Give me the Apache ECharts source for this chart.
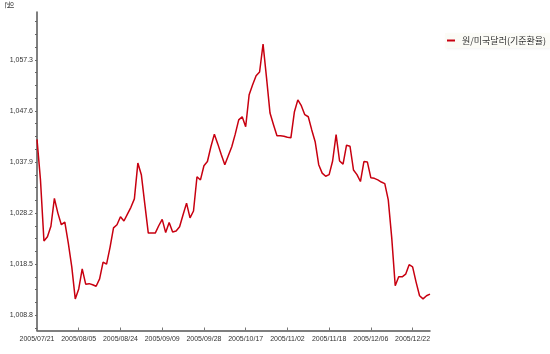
<!DOCTYPE html>
<html>
<head>
<meta charset="utf-8">
<script src="https://cdn.jsdelivr.net/npm/echarts@6/dist/echarts.min.js"></script>
<style>
html,body{margin:0;padding:0;background:#fff;}
#chart{width:550px;height:354px;}
</style>
</head>
<body>
<div id="chart"></div>
<script>
const seriesName = '원/미국달러(기준환율)';
const unitLabel = '원';
const dates = [
 '2005/07/21','2005/07/22','2005/07/25','2005/07/26','2005/07/27','2005/07/28','2005/07/29','2005/07/30',
 '2005/08/01','2005/08/02','2005/08/03','2005/08/04','2005/08/05',
 '2005/08/08','2005/08/09','2005/08/10','2005/08/11','2005/08/12','2005/08/16','2005/08/17','2005/08/18','2005/08/19','2005/08/22','2005/08/23','2005/08/24',
 '2005/08/25','2005/08/26','2005/08/29','2005/08/30','2005/08/31',
 '2005/09/01','2005/09/02','2005/09/05','2005/09/06','2005/09/07','2005/09/08','2005/09/09',
 '2005/09/12','2005/09/13','2005/09/14','2005/09/15','2005/09/16','2005/09/20','2005/09/21','2005/09/22','2005/09/23','2005/09/26','2005/09/27','2005/09/28',
 '2005/09/29','2005/09/30',
 '2005/10/04','2005/10/05','2005/10/06','2005/10/07','2005/10/10','2005/10/11','2005/10/12','2005/10/13','2005/10/14','2005/10/17',
 '2005/10/18','2005/10/19','2005/10/20','2005/10/21','2005/10/24','2005/10/25','2005/10/26','2005/10/27','2005/10/28','2005/10/31',
 '2005/11/01','2005/11/02',
 '2005/11/03','2005/11/04','2005/11/07','2005/11/08','2005/11/09','2005/11/10','2005/11/11','2005/11/14','2005/11/15','2005/11/16','2005/11/17','2005/11/18',
 '2005/11/21','2005/11/22','2005/11/23','2005/11/24','2005/11/25','2005/11/28','2005/11/29','2005/11/30',
 '2005/12/01','2005/12/02','2005/12/05','2005/12/06',
 '2005/12/07','2005/12/08','2005/12/09','2005/12/12','2005/12/13','2005/12/14','2005/12/15','2005/12/16','2005/12/19','2005/12/20','2005/12/21','2005/12/22',
 '2005/12/23','2005/12/26','2005/12/27','2005/12/28','2005/12/29'
];
const rates = [
 1042.2,1034.5,1022.9,1023.7,1025.7,1031.0,1028.2,1026.0,1026.5,1022.5,
 1018.0,1011.9,1013.8,1017.6,1014.7,1014.8,1014.6,1014.3,1015.7,1018.9,
 1018.5,1021.7,1025.4,1026.0,1027.5,1026.7,1028.0,1029.3,1030.9,1037.7,
 1035.5,1029.9,1024.4,1024.4,1024.4,1025.8,1027.0,1024.5,1026.4,1024.6,
 1024.8,1025.6,1027.9,1030.1,1027.3,1028.6,1035.1,1034.5,1037.2,1038.0,
 1040.8,1043.2,1041.3,1039.3,1037.4,1039.1,1040.8,1043.2,1045.9,1046.5,
 1044.6,1050.7,1052.6,1054.3,1055.0,1060.3,1053.9,1047.2,1045.0,1042.9,
 1042.9,1042.8,1042.6,1042.5,1047.4,1049.7,1048.6,1046.9,1046.5,1044.0,
 1041.7,1037.4,1035.8,1035.2,1035.5,1038.1,1043.1,1038.1,1037.5,1041.1,
 1040.9,1036.4,1035.5,1034.2,1038.0,1037.9,1034.9,1034.8,1034.5,1034.1,
 1033.8,1030.7,1023.5,1014.4,1016.1,1016.1,1016.6,1018.4,1018.0,1015.1,
 1012.5,1011.9,1012.5,1012.8
];
const yTickLabels = [1008.8, 1018.5, 1028.2, 1037.9, 1047.6, 1057.3];
const yMin = 1005.9, yMax = 1066.4;

// minor ticks: 4 subdivisions between labelled ticks
const step = (yTickLabels[1] - yTickLabels[0]) / 4;
const yTicks = [];
for (let v = yTickLabels[0] - step; v <= yMax + 1e-6; v += step) {
  if (v >= yMin - 1e-6) yTicks.push(+v.toFixed(3));
}

const chart = echarts.init(document.getElementById('chart'), null, {renderer: 'canvas'});
chart.setOption({
  animation: false,
  backgroundColor: '#ffffff',
  grid: {left: 37, right: 120, top: 12, bottom: 23.5, containLabel: false},
  legend: {
    data: [seriesName],
    left: 445, top: 33,
    icon: 'rect', itemWidth: 8, itemHeight: 2, itemGap: 2,
    padding: [3, 4, 3, 2],
    backgroundColor: 'rgba(252,252,246,0.9)',
    shadowColor: 'rgba(0,0,0,0.08)', shadowBlur: 3, shadowOffsetX: 1, shadowOffsetY: 1,
    textStyle: {fontSize: 9, color: '#333', fontFamily: 'Noto Sans CJK KR', padding: [0,0,0,2]}
  },
  graphic: [{
    type: 'text', x: 14, y: 1, rotation: -Math.PI / 2,
    style: {text: unitLabel, fontSize: 9, fill: '#444', fontFamily: 'Noto Sans CJK KR'}
  }],
  xAxis: {
    type: 'category', data: dates, boundaryGap: false,
    axisLine: {lineStyle: {color: '#555', width: 1.5}},
    axisTick: {inside: true, length: 3, interval: 11, lineStyle: {color: '#777'}},
    axisLabel: {interval: 11, fontSize: 7, color: '#333', margin: 5, fontFamily: 'Liberation Sans'},
    splitLine: {show: false}
  },
  yAxis: {
    type: 'value', min: yMin, max: yMax,
    axisLine: {show: true, lineStyle: {color: '#555', width: 1.5}},
    axisTick: {show: true, length: 2, customValues: yTicks, lineStyle: {color: '#666'}},
    axisLabel: {
      customValues: yTickLabels, fontSize: 7, color: '#333', margin: 4, fontFamily: 'Liberation Sans',
      formatter: v => v.toLocaleString('en-US', {minimumFractionDigits: 1, maximumFractionDigits: 1})
    },
    splitLine: {show: false}
  },
  series: [{
    name: seriesName, type: 'line', data: rates,
    symbol: 'none', smooth: false,
    lineStyle: {color: '#c80010', width: 1.5},
    itemStyle: {color: '#c80010'}
  }]
});
</script>
</body>
</html>
